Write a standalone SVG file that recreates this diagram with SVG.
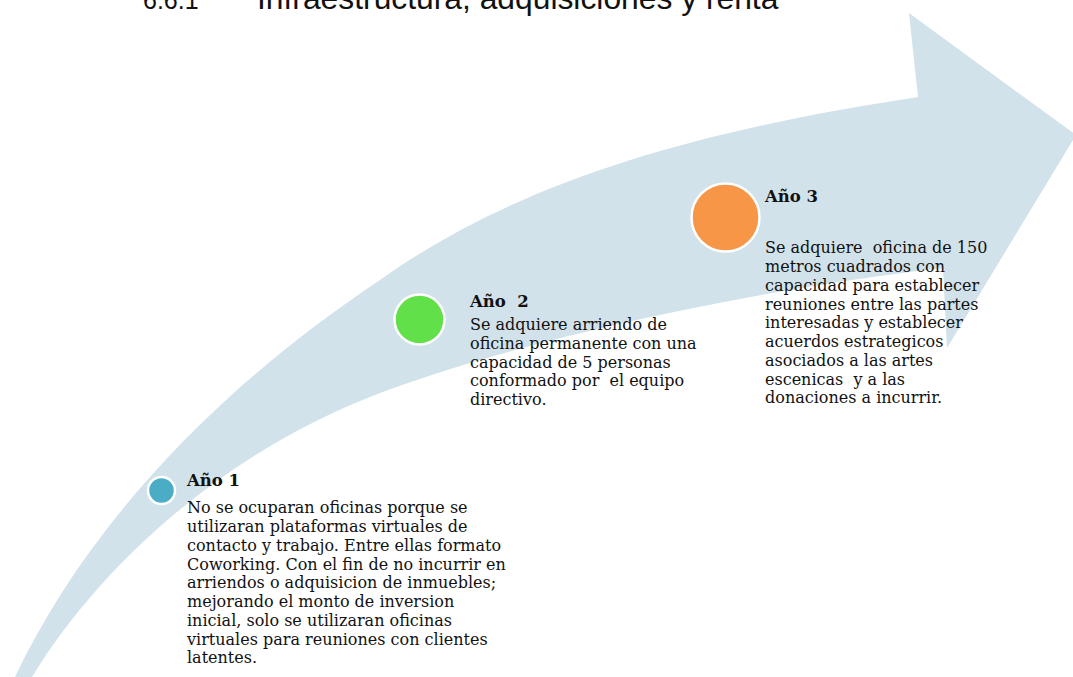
<svg xmlns="http://www.w3.org/2000/svg" width="1073" height="677" viewBox="0 0 1073 677">
  <style>
    .band { fill: #d1e2ea; }
    .dot { stroke: #ffffff; stroke-width: 2.5; }
    .head { font-family: "DejaVu Serif", "Liberation Serif", serif; font-weight: bold; font-size: 16.5px; fill: #111111; }
    .body { font-family: "DejaVu Serif", "Liberation Serif", serif; font-size: 16px; fill: #111111; }
    .title { font-family: "Liberation Sans", Arial, sans-serif; font-size: 25px; fill: #111111; }
  </style>

  <!-- section heading, cropped at the page top -->
  <text class="title" x="143" y="9">6.6.1<tspan x="257" font-size="31.8px">Infraestructura, adquisiciones y renta</tspan></text>

  <!-- curved rising arrow -->
  <g id="connectors">
    <path class="band" d="M15,677 C80,540 200,400 380,280 C520,180 700,130 918,97 L909,13 L1076,135 L947,348 L943,268 C750,290 520,340 380,393 C240,446 110,550 32,677 Z"/>
  </g>

  <g id="year1">
    <circle class="dot" cx="161.5" cy="490.5" r="13.5" fill="#4bacc6"/>
    <text class="head" x="187" y="486">Año 1</text>
    <text class="body" x="187" y="513.3">
      <tspan x="187">No se ocuparan oficinas porque se</tspan>
      <tspan x="187" dy="18.75">utilizaran plataformas virtuales de</tspan>
      <tspan x="187" dy="18.75">contacto y trabajo. Entre ellas formato</tspan>
      <tspan x="187" dy="18.75">Coworking. Con el fin de no incurrir en</tspan>
      <tspan x="187" dy="18.75">arriendos o adquisicion de inmuebles;</tspan>
      <tspan x="187" dy="18.75">mejorando el monto de inversion</tspan>
      <tspan x="187" dy="18.75">inicial, solo se utilizaran oficinas</tspan>
      <tspan x="187" dy="18.75">virtuales para reuniones con clientes</tspan>
      <tspan x="187" dy="18.75">latentes.</tspan>
    </text>
  </g>

  <g id="year2">
    <circle class="dot" cx="419.5" cy="319.5" r="25" fill="#61e04a"/>
    <text class="head" x="470" y="306.5" xml:space="preserve">Año  2</text>
    <text class="body" x="470" y="330" xml:space="preserve"><tspan x="470">Se adquiere arriendo de</tspan><tspan x="470" dy="18.75">oficina permanente con una</tspan><tspan x="470" dy="18.75">capacidad de 5 personas</tspan><tspan x="470" dy="18.75">conformado por  el equipo</tspan><tspan x="470" dy="18.75">directivo.</tspan></text>
  </g>

  <g id="year3">
    <circle class="dot" cx="725.5" cy="217.5" r="34" fill="#f79646"/>
    <text class="head" x="765" y="201.5">Año 3</text>
    <text class="body" x="765" y="253.3" xml:space="preserve"><tspan x="765">Se adquiere  oficina de 150</tspan><tspan x="765" dy="18.75">metros cuadrados con</tspan><tspan x="765" dy="18.75">capacidad para establecer</tspan><tspan x="765" dy="18.75">reuniones entre las partes</tspan><tspan x="765" dy="18.75">interesadas y establecer</tspan><tspan x="765" dy="18.75">acuerdos estrategicos</tspan><tspan x="765" dy="18.75">asociados a las artes</tspan><tspan x="765" dy="18.75">escenicas  y a las</tspan><tspan x="765" dy="18.75">donaciones a incurrir.</tspan></text>
  </g>
</svg>
